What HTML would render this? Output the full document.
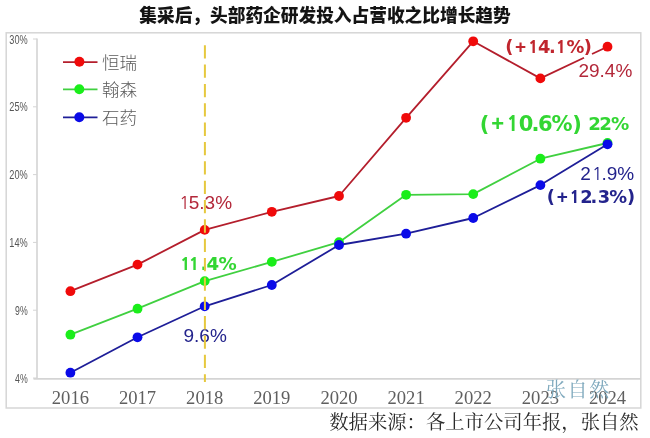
<!DOCTYPE html>
<html><head><meta charset="utf-8">
<style>
html,body{margin:0;padding:0;background:#fff;}
body{width:650px;height:438px;overflow:hidden;}
svg{display:block;}
.yl{font-family:"Liberation Sans","Noto Sans CJK SC",sans-serif;font-size:13px;fill:#555;}
.xl{font-family:"Liberation Serif","Noto Serif CJK SC",serif;font-size:18.6px;fill:#5f5f5f;}
.ttl{font-family:"Liberation Sans","Noto Sans CJK SC",sans-serif;font-size:17.7px;font-weight:900;fill:#141414;}
.lg{font-family:"Liberation Sans","Noto Sans CJK SC",sans-serif;font-size:17.5px;font-weight:300;fill:#5a5a5a;}
.dl{font-family:"Liberation Sans","Noto Sans CJK SC",sans-serif;font-size:19px;}
.db{font-family:"Liberation Sans","Noto Sans CJK SC",sans-serif;font-size:19.5px;font-weight:700;}
.dp{font-family:"Liberation Sans","Noto Sans CJK SC",sans-serif;font-size:19.0px;font-weight:700;}
.dg{font-family:"Liberation Sans","Noto Sans CJK SC",sans-serif;font-size:22.0px;font-weight:700;}
.src{font-family:"Liberation Serif","Noto Serif CJK SC",serif;font-size:19.35px;font-weight:400;fill:#2a2a2a;}
.wm{font-family:"Liberation Serif","Noto Serif CJK SC",serif;font-size:20px;fill:#7fa9bd;}
</style></head>
<body>
<svg width="650" height="438" viewBox="0 0 650 438">
<rect x="0" y="0" width="650" height="438" fill="#fff"/>
<text x="325" y="21.6" text-anchor="middle" class="ttl">集采后，头部药企研发投入占营收之比增长趋势</text>
<rect x="6.2" y="32.8" width="634.6" height="375.2" fill="none" stroke="#d6d6d6" stroke-width="1.5"/>
<line x1="37" y1="38.5" x2="37" y2="378.5" stroke="#d4d4d4" stroke-width="1.6"/>
<line x1="33.5" y1="378.9" x2="641" y2="378.9" stroke="#d4d4d4" stroke-width="1.6"/>
<line x1="33" y1="39.0" x2="37" y2="39.0" stroke="#d4d4d4" stroke-width="1"/>
<line x1="33" y1="106.8" x2="37" y2="106.8" stroke="#d4d4d4" stroke-width="1"/>
<line x1="33" y1="174.6" x2="37" y2="174.6" stroke="#d4d4d4" stroke-width="1"/>
<line x1="33" y1="242.4" x2="37" y2="242.4" stroke="#d4d4d4" stroke-width="1"/>
<line x1="33" y1="310.2" x2="37" y2="310.2" stroke="#d4d4d4" stroke-width="1"/>
<line x1="33" y1="378.0" x2="37" y2="378.0" stroke="#d4d4d4" stroke-width="1"/>
<text x="9.3" y="43.6" class="yl" textLength="18.4" lengthAdjust="spacingAndGlyphs">30%</text>
<text x="9.3" y="111.4" class="yl" textLength="18.4" lengthAdjust="spacingAndGlyphs">25%</text>
<text x="9.3" y="179.2" class="yl" textLength="18.4" lengthAdjust="spacingAndGlyphs">20%</text>
<text x="9.3" y="247.0" class="yl" textLength="18.4" lengthAdjust="spacingAndGlyphs">14%</text>
<text x="15.1" y="314.8" class="yl" textLength="12.6" lengthAdjust="spacingAndGlyphs">9%</text>
<text x="15.1" y="382.6" class="yl" textLength="12.6" lengthAdjust="spacingAndGlyphs">4%</text>
<text x="70.4" y="404.3" text-anchor="middle" class="xl">2016</text>
<text x="137.5" y="404.3" text-anchor="middle" class="xl">2017</text>
<text x="204.7" y="404.3" text-anchor="middle" class="xl">2018</text>
<text x="271.8" y="404.3" text-anchor="middle" class="xl">2019</text>
<text x="339.0" y="404.3" text-anchor="middle" class="xl">2020</text>
<text x="406.1" y="404.3" text-anchor="middle" class="xl">2021</text>
<text x="473.2" y="404.3" text-anchor="middle" class="xl">2022</text>
<text x="540.4" y="404.3" text-anchor="middle" class="xl">2023</text>
<text x="607.5" y="404.3" text-anchor="middle" class="xl">2024</text>
<line x1="63" y1="62.1" x2="97.5" y2="62.1" stroke="#b41e2c" stroke-width="1.8"/>
<circle cx="79.4" cy="61.7" r="5" fill="#f00a0a"/>
<line x1="63" y1="89.4" x2="97.5" y2="89.4" stroke="#40d040" stroke-width="1.8"/>
<circle cx="79.3" cy="89.2" r="5" fill="#1aee1a"/>
<line x1="63" y1="117.3" x2="97.5" y2="117.3" stroke="#1e1e98" stroke-width="1.8"/>
<circle cx="79.3" cy="117.3" r="5" fill="#0a0ae8"/>
<text x="102" y="68.5" class="lg">恒瑞</text>
<text x="102" y="96" class="lg">翰森</text>
<text x="102" y="123.6" class="lg">石药</text>
<polyline points="70.4,291.2 137.5,264.6 204.7,229.9 271.8,211.8 339.0,196.0 406.1,117.8 473.2,41.3 540.4,78.4 584,57.8" fill="none" stroke="#b41e2c" stroke-width="1.8" stroke-linejoin="round"/>
<polyline points="592,54.0 607.5,46.7" fill="none" stroke="#b41e2c" stroke-width="1.8"/>
<circle cx="70.4" cy="291.2" r="4.9" fill="#f00a0a"/>
<circle cx="137.5" cy="264.6" r="4.9" fill="#f00a0a"/>
<circle cx="204.7" cy="229.9" r="4.9" fill="#f00a0a"/>
<circle cx="271.8" cy="211.8" r="4.9" fill="#f00a0a"/>
<circle cx="339.0" cy="196.0" r="4.9" fill="#f00a0a"/>
<circle cx="406.1" cy="117.8" r="4.9" fill="#f00a0a"/>
<circle cx="473.2" cy="41.3" r="4.9" fill="#f00a0a"/>
<circle cx="540.4" cy="78.4" r="4.9" fill="#f00a0a"/>
<circle cx="607.5" cy="46.7" r="4.9" fill="#f00a0a"/>
<polyline points="70.4,334.7 137.5,308.7 204.7,281.1 271.8,261.9 339.0,242.2 406.1,194.8 473.2,194.1 540.4,158.7 607.5,143.0" fill="none" stroke="#40d040" stroke-width="1.8" stroke-linejoin="round"/>
<circle cx="70.4" cy="334.7" r="4.9" fill="#1aee1a"/>
<circle cx="137.5" cy="308.7" r="4.9" fill="#1aee1a"/>
<circle cx="204.7" cy="281.1" r="4.9" fill="#1aee1a"/>
<circle cx="271.8" cy="261.9" r="4.9" fill="#1aee1a"/>
<circle cx="339.0" cy="242.2" r="4.9" fill="#1aee1a"/>
<circle cx="406.1" cy="194.8" r="4.9" fill="#1aee1a"/>
<circle cx="473.2" cy="194.1" r="4.9" fill="#1aee1a"/>
<circle cx="540.4" cy="158.7" r="4.9" fill="#1aee1a"/>
<circle cx="607.5" cy="143.0" r="4.9" fill="#1aee1a"/>
<polyline points="70.4,372.7 137.5,337.3 204.7,306.3 271.8,285.0 339.0,245.0 406.1,233.7 473.2,218.0 540.4,185.1 607.5,144.3" fill="none" stroke="#1e1e98" stroke-width="1.8" stroke-linejoin="round"/>
<circle cx="70.4" cy="372.7" r="4.9" fill="#0a0ae8"/>
<circle cx="137.5" cy="337.3" r="4.9" fill="#0a0ae8"/>
<circle cx="204.7" cy="306.3" r="4.9" fill="#0a0ae8"/>
<circle cx="271.8" cy="285.0" r="4.9" fill="#0a0ae8"/>
<circle cx="339.0" cy="245.0" r="4.9" fill="#0a0ae8"/>
<circle cx="406.1" cy="233.7" r="4.9" fill="#0a0ae8"/>
<circle cx="473.2" cy="218.0" r="4.9" fill="#0a0ae8"/>
<circle cx="540.4" cy="185.1" r="4.9" fill="#0a0ae8"/>
<circle cx="607.5" cy="144.3" r="4.9" fill="#0a0ae8"/>
<text fill="#b3283a"><tspan x="179.25" y="208.80" font-family="NanumGothic, sans-serif" font-weight="400" font-size="17.4">1</tspan><tspan x="188.72" y="208.80" font-family="Liberation Sans, sans-serif" font-weight="400" font-size="19">5</tspan><tspan x="199.29" y="208.80" font-family="Liberation Sans, sans-serif" font-weight="400" font-size="19">.</tspan><tspan x="204.57" y="208.80" font-family="Liberation Sans, sans-serif" font-weight="400" font-size="19">3</tspan><tspan x="215.13" y="208.80" font-family="Liberation Sans, sans-serif" font-weight="400" font-size="19">%</tspan></text>
<text fill="#b3283a"><tspan x="578.44" y="76.80" font-family="Liberation Sans, sans-serif" font-weight="400" font-size="19">2</tspan><tspan x="589.01" y="76.80" font-family="Liberation Sans, sans-serif" font-weight="400" font-size="19">9</tspan><tspan x="599.58" y="76.80" font-family="Liberation Sans, sans-serif" font-weight="400" font-size="19">.</tspan><tspan x="604.86" y="76.80" font-family="Liberation Sans, sans-serif" font-weight="400" font-size="19">4</tspan><tspan x="615.42" y="76.80" font-family="Liberation Sans, sans-serif" font-weight="400" font-size="19">%</tspan></text>
<text fill="#23238c"><tspan x="183.51" y="341.50" font-family="Liberation Sans, sans-serif" font-weight="400" font-size="19">9</tspan><tspan x="194.08" y="341.50" font-family="Liberation Sans, sans-serif" font-weight="400" font-size="19">.</tspan><tspan x="199.36" y="341.50" font-family="Liberation Sans, sans-serif" font-weight="400" font-size="19">6</tspan><tspan x="209.92" y="341.50" font-family="Liberation Sans, sans-serif" font-weight="400" font-size="19">%</tspan></text>
<text fill="#23238c"><tspan x="580.24" y="180.30" font-family="Liberation Sans, sans-serif" font-weight="400" font-size="19">2</tspan><tspan x="591.91" y="180.30" font-family="NanumGothic, sans-serif" font-weight="400" font-size="17.4">1</tspan><tspan x="601.38" y="180.30" font-family="Liberation Sans, sans-serif" font-weight="400" font-size="19">.</tspan><tspan x="606.66" y="180.30" font-family="Liberation Sans, sans-serif" font-weight="400" font-size="19">9</tspan><tspan x="617.22" y="180.30" font-family="Liberation Sans, sans-serif" font-weight="400" font-size="19">%</tspan></text>
<text fill="#33d633"><tspan x="180.24" y="270.40" font-family="NanumGothic, sans-serif" font-weight="800" font-size="17.1">1</tspan><tspan x="189.04" y="270.40" font-family="NanumGothic, sans-serif" font-weight="800" font-size="17.1">1</tspan><tspan x="200.54" y="270.40" font-family="DejaVu Sans, sans-serif" font-weight="700" font-size="18.2">.</tspan><tspan x="206.38" y="270.40" font-family="DejaVu Sans, sans-serif" font-weight="700" font-size="18.2">4</tspan><tspan x="218.58" y="270.40" font-family="DejaVu Sans, sans-serif" font-weight="700" font-size="18.2">%</tspan></text>
<text fill="#c0262e"><tspan x="505.18" y="53.00" font-family="DejaVu Sans, sans-serif" font-weight="700" font-size="17.8">(</tspan><tspan x="514.94" y="53.00" font-family="Liberation Sans, sans-serif" font-weight="700" font-size="19">+</tspan><tspan x="528.22" y="53.00" font-family="NanumGothic, sans-serif" font-weight="800" font-size="16.8">1</tspan><tspan x="538.12" y="53.00" font-family="DejaVu Sans, sans-serif" font-weight="700" font-size="17.8">4</tspan><tspan x="548.92" y="53.00" font-family="DejaVu Sans, sans-serif" font-weight="700" font-size="17.8">.</tspan><tspan x="556.12" y="53.00" font-family="NanumGothic, sans-serif" font-weight="800" font-size="16.8">1</tspan><tspan x="566.58" y="53.00" font-family="DejaVu Sans, sans-serif" font-weight="700" font-size="17.8">%</tspan><tspan x="583.78" y="53.00" font-family="DejaVu Sans, sans-serif" font-weight="700" font-size="17.8">)</tspan></text>
<text fill="#23238c"><tspan x="546.68" y="202.50" font-family="DejaVu Sans, sans-serif" font-weight="700" font-size="17.8">(</tspan><tspan x="556.74" y="202.50" font-family="Liberation Sans, sans-serif" font-weight="700" font-size="19">+</tspan><tspan x="569.82" y="202.50" font-family="NanumGothic, sans-serif" font-weight="800" font-size="16.8">1</tspan><tspan x="580.28" y="202.50" font-family="DejaVu Sans, sans-serif" font-weight="700" font-size="17.8">2</tspan><tspan x="590.62" y="202.50" font-family="DejaVu Sans, sans-serif" font-weight="700" font-size="17.8">.</tspan><tspan x="597.82" y="202.50" font-family="DejaVu Sans, sans-serif" font-weight="700" font-size="17.8">3</tspan><tspan x="609.18" y="202.50" font-family="DejaVu Sans, sans-serif" font-weight="700" font-size="17.8">%</tspan><tspan x="626.98" y="202.50" font-family="DejaVu Sans, sans-serif" font-weight="700" font-size="17.8">)</tspan></text>
<text fill="#33d633"><tspan x="479.64" y="131.00" font-family="DejaVu Sans, sans-serif" font-weight="700" font-size="21.0">(</tspan><tspan x="491.16" y="131.00" font-family="Liberation Sans, sans-serif" font-weight="700" font-size="22">+</tspan><tspan x="506.67" y="131.00" font-family="NanumGothic, sans-serif" font-weight="800" font-size="19.8">1</tspan><tspan x="518.69" y="131.00" font-family="DejaVu Sans, sans-serif" font-weight="700" font-size="21.0">0</tspan><tspan x="531.41" y="131.00" font-family="DejaVu Sans, sans-serif" font-weight="700" font-size="21.0">.</tspan><tspan x="537.91" y="131.00" font-family="DejaVu Sans, sans-serif" font-weight="700" font-size="21.0">6</tspan><tspan x="551.57" y="131.00" font-family="DejaVu Sans, sans-serif" font-weight="700" font-size="21.0">%</tspan><tspan x="572.26" y="131.00" font-family="DejaVu Sans, sans-serif" font-weight="700" font-size="21.0">)</tspan></text>
<text fill="#33d633"><tspan x="588.24" y="130.40" font-family="DejaVu Sans, sans-serif" font-weight="700" font-size="18.2">2</tspan><tspan x="599.24" y="130.40" font-family="DejaVu Sans, sans-serif" font-weight="700" font-size="18.2">2</tspan><tspan x="610.88" y="130.40" font-family="DejaVu Sans, sans-serif" font-weight="700" font-size="18.2">%</tspan></text>
<line x1="204.9" y1="45.2" x2="204.9" y2="382" stroke="#e6c83e" stroke-width="2" stroke-dasharray="13.3 6.05"/>
<text x="546" y="397" class="wm" letter-spacing="1.6">张自然</text>
<text x="329.2" y="429.4" class="src">数据来源：各上市公司年报，张自然</text>
</svg>
</body></html>
